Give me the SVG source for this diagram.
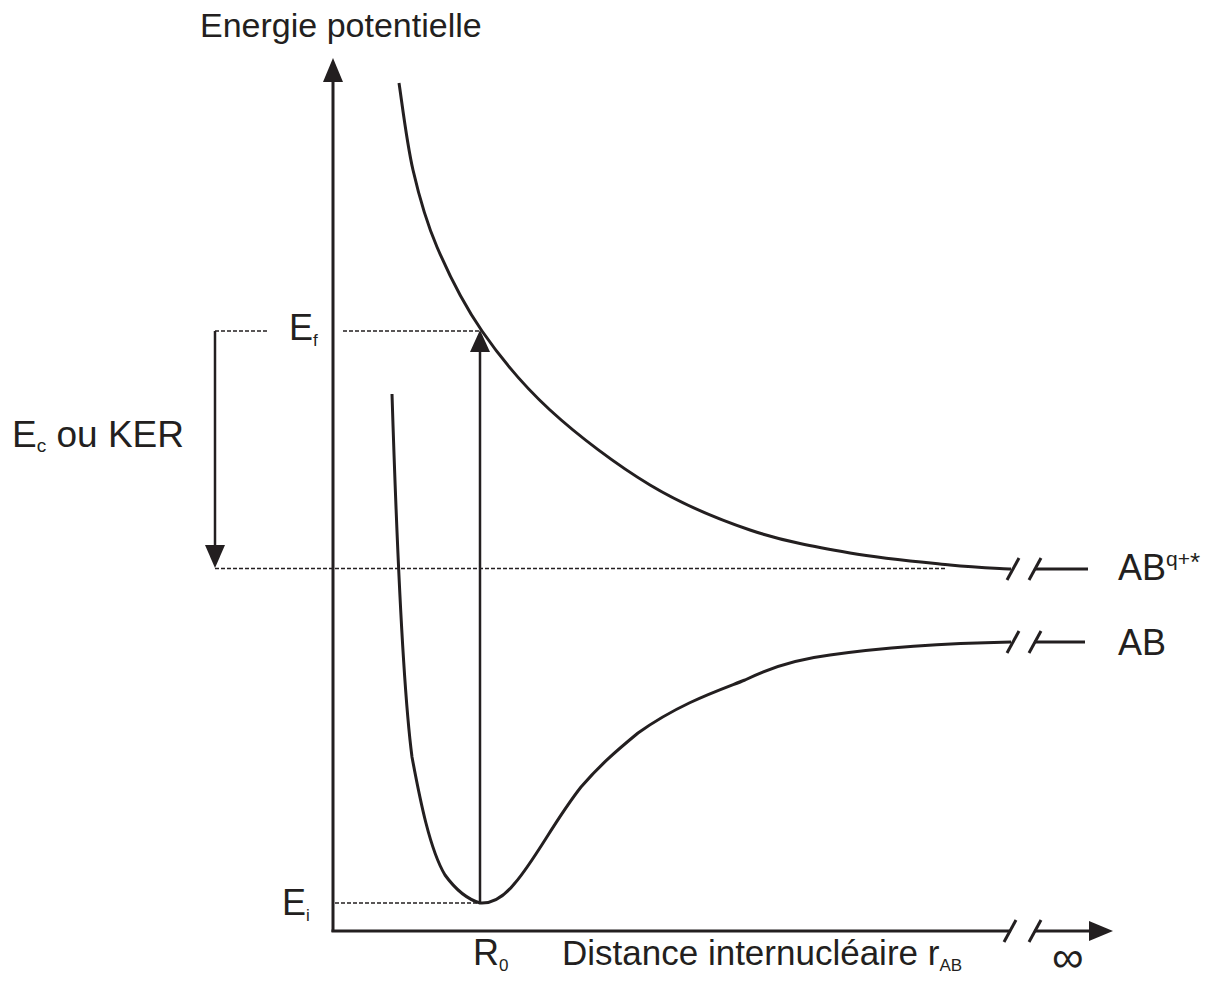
<svg xmlns="http://www.w3.org/2000/svg" width="1219" height="983" viewBox="0 0 1219 983">
<style>
.t{font-family:"Liberation Sans",Arial,sans-serif;fill:#231f20}
.ax{stroke:#231f20;stroke-width:3;fill:none}
.cv{stroke:#231f20;stroke-width:3;fill:none}
.ar{stroke:#231f20;stroke-width:2.5;fill:none}
.ds{stroke:#231f20;stroke-width:1.5;stroke-dasharray:4 2;fill:none}
.hd{fill:#231f20}
</style>
<rect width="1219" height="983" fill="#fff"/>
<g id="axes">
<line class="ax" x1="333" y1="932" x2="333" y2="78"/>
<polygon class="hd" points="333,58 323,82 343,82"/>
<line class="ax" x1="331.5" y1="931" x2="1011" y2="931"/>
<line class="ax" x1="1034" y1="931" x2="1092" y2="931"/>
<line class="ax" x1="1004" y1="942" x2="1016" y2="920"/>
<line class="ax" x1="1029" y1="942" x2="1041" y2="920"/>
<polygon class="hd" points="1113,931 1089,921 1089,941"/>
</g>
<g id="curve-upper">
<path class="cv" d="M399,83 C401.3,97.5 406.7,142.7 413,170 C419.3,197.3 425.5,220.2 437,247 C448.5,273.8 463.2,303.8 482,331 C500.8,358.2 522,384.3 550,410 C578,435.7 616.7,465 650,485 C683.3,505 716.7,518.7 750,530 C783.3,541.3 816.7,547.2 850,553 C883.3,558.8 923.2,562.3 950,565 C976.8,567.7 1000.8,568.3 1011,569"/>
<line class="cv" x1="1035" y1="569" x2="1088" y2="569"/>
<line class="cv" x1="1007" y1="580" x2="1019" y2="558"/>
<line class="cv" x1="1029" y1="580" x2="1041" y2="558"/>
</g>
<g id="curve-lower">
<path class="cv" d="M392,394 C396,520 402,680 412,757 C420,800 430,850 445,875 C458,893 470,900 480,903 C495,904 507,893 515,883 C535,860 555,820 581,787 C600,765 615,752 638,733 C680,703 720,690 745,680 C765,670 790,660 830,655 C900,645 960,643 1011,642"/>
<line class="cv" x1="1034" y1="642" x2="1085" y2="642"/>
<line class="cv" x1="1007" y1="653" x2="1019" y2="631"/>
<line class="cv" x1="1029" y1="653" x2="1041" y2="631"/>
</g>
<g id="connectors">
<line class="ds" x1="215" y1="331" x2="268" y2="331"/>
<line class="ds" x1="343" y1="331" x2="480" y2="331"/>
<line class="ds" x1="215" y1="568.5" x2="945" y2="568.5"/>
<line class="ds" x1="335" y1="903" x2="478" y2="903"/>
<line class="ar" x1="480" y1="903" x2="480" y2="348"/>
<polygon class="hd" points="480,330 470,352 490,352"/>
<line class="ar" x1="215" y1="331" x2="215" y2="550"/>
<polygon class="hd" points="215,568 205,545 225,545"/>
</g>
<g id="labels">
<text class="t" x="200" y="37" style="font-size:34px">Energie potentielle</text>
<text class="t" x="289" y="340" style="font-size:36px">E<tspan style="font-size:17px" dy="6">f</tspan></text>
<text class="t" x="12" y="447" style="font-size:37px">E<tspan style="font-size:19px" dy="5">c</tspan><tspan dy="-5"> ou KER</tspan></text>
<text class="t" x="282" y="915" style="font-size:36px">E<tspan style="font-size:17px" dy="6">i</tspan></text>
<text class="t" x="473" y="965" style="font-size:36px">R<tspan style="font-size:17px" dy="6">0</tspan></text>
<text class="t" x="562" y="965" style="font-size:35px">Distance internucléaire r<tspan style="font-size:17px" dy="6">AB</tspan></text>
<text class="t" x="1052" y="972" style="font-size:44px">∞</text>
<text class="t" x="1118" y="580" style="font-size:36px">AB<tspan style="font-size:21px" dy="-14">q+</tspan><tspan style="font-size:26px" dy="5">*</tspan></text>
<text class="t" x="1118" y="655" style="font-size:36px">AB</text>
</g>
</svg>
